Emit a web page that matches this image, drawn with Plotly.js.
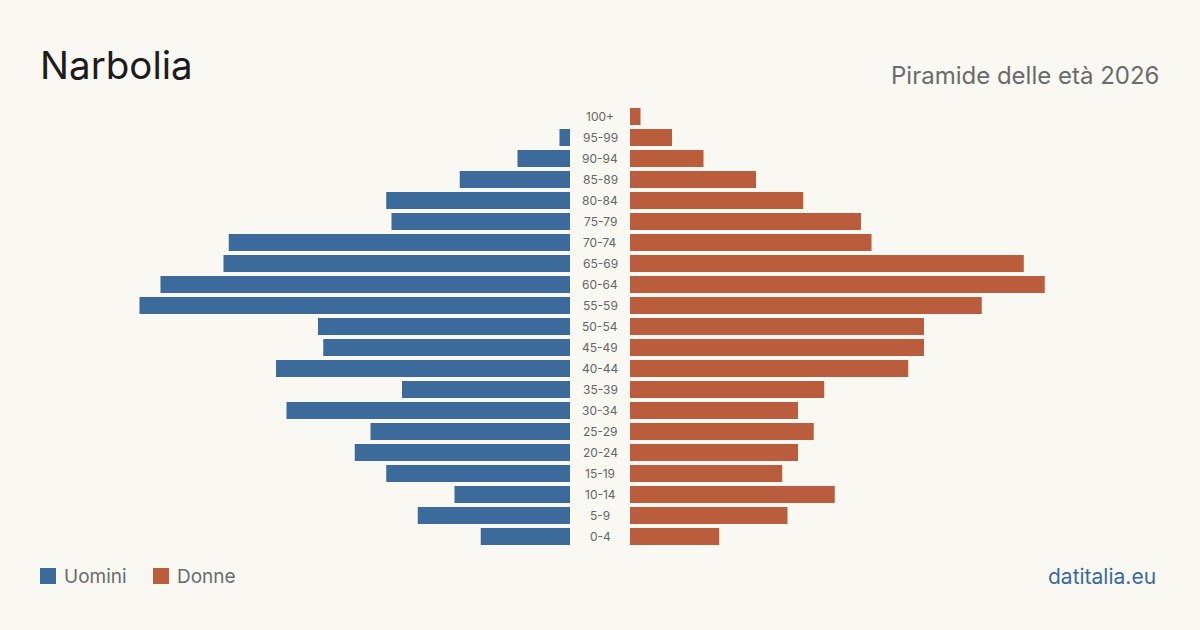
<!DOCTYPE html>
<html><head><meta charset="utf-8">
<script src="https://cdn.plot.ly/plotly-3.0.1.min.js"></script>
<style>html,body{margin:0;padding:0;background:#f9f8f3;}#chart{width:1200px;height:630px;}</style>
</head><body><div id="chart"></div>
<script>
const ageGroups = ["100+","95-99","90-94","85-89","80-84","75-79","70-74","65-69","60-64","55-59","50-54","45-49","40-44","35-39","30-34","25-29","20-24","15-19","10-14","5-9","0-4"];
const men   = [0, 2, 10, 21, 35, 34, 65, 66, 78, 82, 48, 47, 56, 32, 54, 38, 41, 35, 22, 29, 17];
const women = [2, 8, 14, 24, 33, 44, 46, 75, 79, 67, 56, 56, 53, 37, 32, 35, 32, 29, 39, 30, 17];
const seriesNames = ["Uomini", "Donne"];
const colors = ["#3b6a9b", "#b95d3d"];

const W = 1200, H = 630, ml = 40, mr = 40, mt = 106, mb = 83;
const plotW = W - ml - mr, plotH = H - mt - mb;
const gapL = 570 - ml, gapR = 630 - ml;
const pxPerUnit = 5.25;
const maxRange = (570 - ml) / pxPerUnit;
const catOrder = ageGroups.slice().reverse();

const traces = [
  {type:'bar', orientation:'h', name:seriesNames[0], y:ageGroups, x:men, xaxis:'x', yaxis:'y',
   marker:{color:colors[0]}, hoverinfo:'x+y', showlegend:false},
  {type:'bar', orientation:'h', name:seriesNames[1], y:ageGroups, x:women, xaxis:'x2', yaxis:'y',
   marker:{color:colors[1]}, hoverinfo:'x+y', showlegend:false}
];

const py = p => (H - mb - p) / plotH;
const px = p => (p - ml) / plotW;

const annotations = ageGroups.map(g => ({
  xref:'paper', yref:'y', x:0.5, y:g, text:g, showarrow:false, xanchor:'center', yanchor:'middle',
  font:{family:'Inter, sans-serif', size:12, color:'#666666'}
}));
annotations.push({xref:'paper', yref:'paper', x:px(1161), y:py(76), text:'Piramide delle età 2026',
  showarrow:false, xanchor:'right', yanchor:'middle', font:{family:'Inter, sans-serif', size:24, color:'#6b6b6b'}});
annotations.push({xref:'paper', yref:'paper', x:px(1158), y:py(576), text:'datitalia.eu',
  showarrow:false, xanchor:'right', yanchor:'middle', font:{family:'Inter, sans-serif', size:21, color:'#3b6a9b'}});
annotations.push({xref:'paper', yref:'paper', x:px(62), y:py(576), text:seriesNames[0],
  showarrow:false, xanchor:'left', yanchor:'middle', font:{family:'Inter, sans-serif', size:19, color:'#6b6b6b'}});
annotations.push({xref:'paper', yref:'paper', x:px(175), y:py(576), text:seriesNames[1],
  showarrow:false, xanchor:'left', yanchor:'middle', font:{family:'Inter, sans-serif', size:19, color:'#6b6b6b'}});

const shapes = [
  {type:'rect', xref:'paper', yref:'paper', x0:px(40), x1:px(56), y0:py(584), y1:py(568), fillcolor:colors[0], line:{width:0}},
  {type:'rect', xref:'paper', yref:'paper', x0:px(153), x1:px(169), y0:py(584), y1:py(568), fillcolor:colors[1], line:{width:0}}
];

const layout = {
  width:W, height:H,
  paper_bgcolor:'#f9f8f3', plot_bgcolor:'#f9f8f3',
  margin:{l:ml, r:mr, t:mt, b:mb, pad:0},
  title:{text:'Narbolia', x:ml/W, xanchor:'left', xref:'container', y:1-66/H, yanchor:'middle',
    font:{family:'Inter, sans-serif', size:38.5, color:'#1c1c1c'}},
  bargap: 4/21,
  xaxis:{domain:[0, gapL/plotW], range:[maxRange, 0], showgrid:false, zeroline:false, showticklabels:false, showline:false, fixedrange:true},
  xaxis2:{domain:[gapR/plotW, 1], range:[0, maxRange], showgrid:false, zeroline:false, showticklabels:false, showline:false, fixedrange:true},
  yaxis:{type:'category', categoryorder:'array', categoryarray:catOrder, range:[-0.5, ageGroups.length-0.5],
    showticklabels:false, showgrid:false, zeroline:false, showline:false, fixedrange:true},
  annotations:annotations, shapes:shapes, showlegend:false
};

Plotly.newPlot('chart', traces, layout, {displayModeBar:false, staticPlot:true});
</script></body></html>
